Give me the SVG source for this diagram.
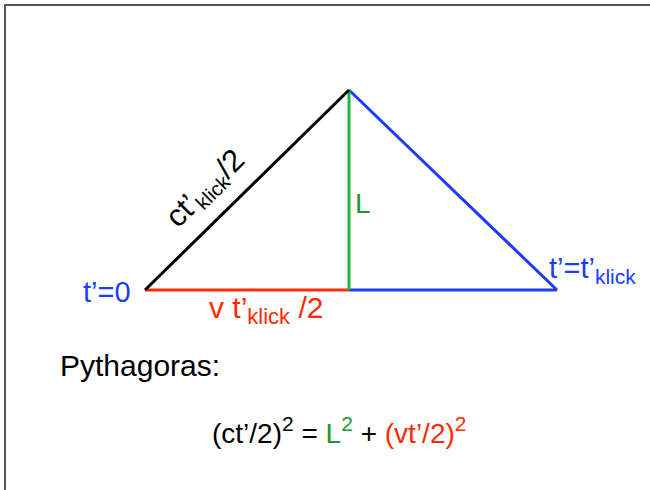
<svg xmlns="http://www.w3.org/2000/svg" width="650" height="490" viewBox="0 0 650 490">
<style>
text{font-family:"Liberation Sans",Arial,sans-serif;}
.blue{fill:#1a3cff;}
.red{fill:#ff2a00;}
.green{fill:#1a9a30;}
.blk{fill:#000;}
line{stroke-width:3;stroke-linecap:butt;}
</style>
<rect x="0" y="0" width="650" height="490" fill="#fff"/>
<path d="M5,490 V5 H650" fill="none" stroke="#555" stroke-width="2"/>
<g id="connectors">
<line x1="349" y1="90" x2="557" y2="290" stroke="#1a3cff"/>
<line x1="349" y1="290" x2="557" y2="290" stroke="#1a3cff"/>
<line x1="145" y1="290" x2="349" y2="290" stroke="#ff2a00"/>
<line x1="349" y1="90" x2="349" y2="290" stroke="#22b040"/>
<line x1="145" y1="290" x2="349" y2="90" stroke="#000"/>
</g>
<g id="label-hyp">
<text class="blk" font-size="31" transform="translate(178,229) rotate(-44.4)">ct’<tspan font-size="20" dy="5">klick</tspan><tspan dy="-5">/2</tspan></text>
</g>
<g id="label-L"><text class="green" x="355" y="213" font-size="28">L</text></g>
<g id="label-t0"><text class="blue" x="83" y="302" font-size="29">t’=0</text></g>
<g id="label-tk"><text class="blue" x="549" y="278" font-size="29">t’=t’<tspan font-size="21" dy="6">klick</tspan></text></g>
<g id="label-v"><text class="red" x="209" y="318" font-size="30">v t’<tspan font-size="22" dy="6">klick</tspan><tspan dy="-6"> /2</tspan></text></g>
<g id="title"><text class="blk" x="60" y="376" font-size="30">Pythagoras:</text></g>
<g id="formula"><text class="blk" x="212" y="443" font-size="28">(ct’/2)<tspan font-size="21" dy="-12">2</tspan><tspan dy="12"> = </tspan><tspan class="green">L</tspan><tspan class="green" font-size="21" dy="-12">2</tspan><tspan dy="12"> + </tspan><tspan class="red">(vt’/2)</tspan><tspan class="red" font-size="21" dy="-12">2</tspan></text></g>
</svg>
